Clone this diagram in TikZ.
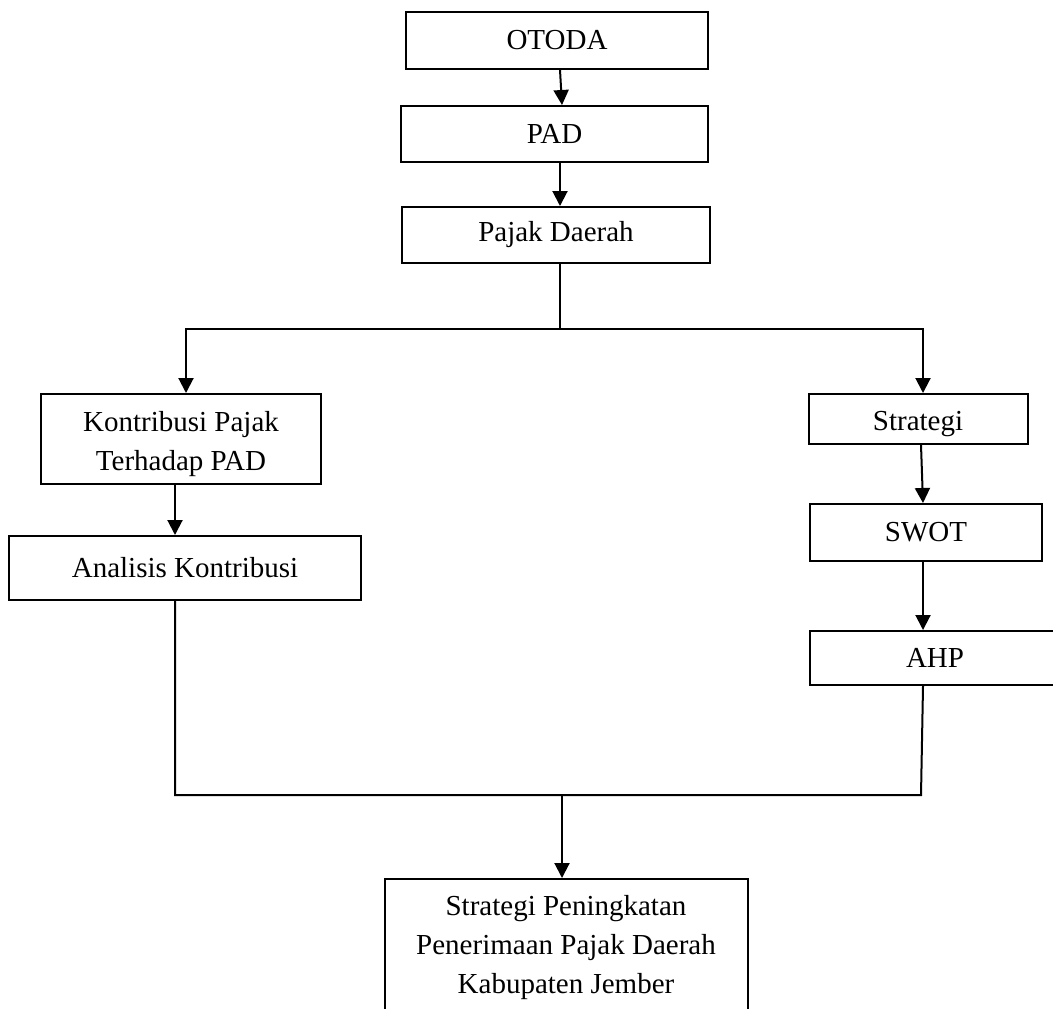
\documentclass[tikz,border=0pt]{standalone}
\usepackage{fontspec}
\setmainfont{Liberation Serif}
\usetikzlibrary{arrows.meta}
\begin{document}
\begin{tikzpicture}[x=0.5pt,y=-0.5pt,
  every node/.style={font=\fontsize{14.5pt}{19.5pt}\selectfont},
  box/.style={draw, line width=1pt, inner sep=0pt},
  txt/.style={align=center, inner sep=0pt},
  conn/.style={line width=1pt},
  arr/.style={line width=1pt, -{Triangle[length=7.5pt,width=7.5pt]}}]
\useasboundingbox (0,0) rectangle (1053,1008);
\clip (0,0) rectangle (1053,1008);
% boxes
\node[box, minimum width=151pt, minimum height=28.5pt] (otoda) at (557,40.5) {OTODA};
\node[box, minimum width=153.5pt, minimum height=28pt] (pad) at (554.5,134) {PAD};
\node[box, minimum width=154pt, minimum height=28pt] (pajak) at (556,235) {Pajak Daerah};
\node[box, minimum width=140pt, minimum height=45pt] (kontri) at (181,439) {};
\node[txt] (kontriT) at (181,444) {Kontribusi Pajak\\Terhadap PAD};
\node[box, minimum width=176pt, minimum height=32pt] (analisis) at (185,568) {Analisis Kontribusi};
\node[box, minimum width=109.5pt, minimum height=25pt] (strategi) at (918.5,419) {};
\node[txt] (strategiT) at (918,424) {Strategi};
\node[box, minimum width=116pt, minimum height=28.5pt] (swot) at (926,532.5) {SWOT};
\node[box, minimum width=125pt, minimum height=27pt] (ahp) at (935,658) {AHP};
\node[box, minimum width=181.5pt, minimum height=75.5pt] (final) at (566.5,954.5) {};
\node[txt] (finalT) at (566,948) {Strategi Peningkatan\\Penerimaan Pajak Daerah\\Kabupaten Jember};
% junction points
\coordinate (split) at (560,329);
\coordinate (jl) at (175,795);
\coordinate (jm) at (562,795);
\coordinate (jr) at (921,795);
% connectors
\draw[arr] ([xshift=1.5pt]otoda.south) -- ([xshift=3.75pt]pad.north);
\draw[arr] ([xshift=2.75pt]pad.south) -- ([xshift=2pt]pajak.north);
\draw[conn] ([xshift=2pt]pajak.south) -- (split);
\draw[arr] (split) -| ([xshift=2.5pt]kontri.north);
\draw[arr] (split) -| ([xshift=2.25pt]strategi.north);
\draw[arr] ([xshift=-3pt]kontri.south) -- ([xshift=-5pt]analisis.north);
\draw[arr] ([xshift=1.25pt]strategi.south) -- ([xshift=-1.5pt]swot.north);
\draw[arr] ([xshift=-1.5pt]swot.south) -- ([xshift=-6pt]ahp.north);
\draw[conn] ([xshift=-5pt]analisis.south) -- (jl) -- (jr) -- ([xshift=-6pt]ahp.south);
\draw[arr] (jm) -- ([xshift=-2.25pt]final.north);
\end{tikzpicture}
\end{document}
